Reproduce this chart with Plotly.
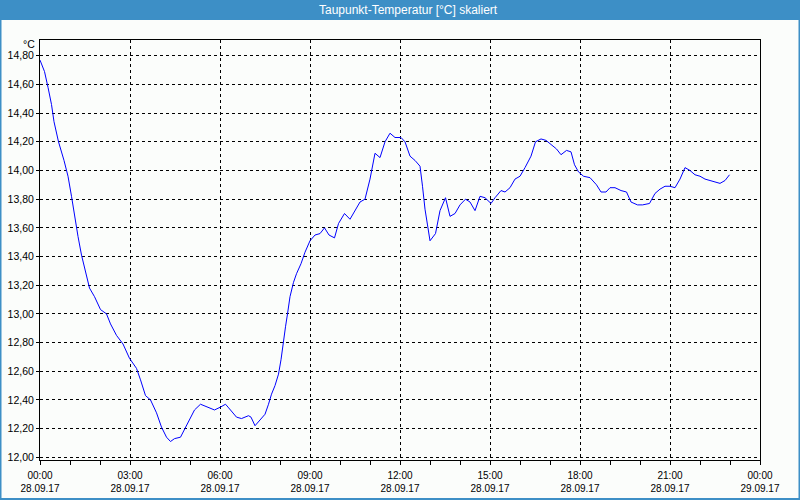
import plotly.graph_objects as go

# minutes since 00:00 on 28.09.17, dew point in °C
minutes = [0, 9, 16, 23, 28, 37, 48, 56, 63, 69, 76, 83, 91, 99, 109, 121, 133, 141, 153, 166,
           179, 193, 201, 211, 221, 233, 243, 253, 261, 269, 281, 293, 309, 321, 336, 349, 361, 371, 376,
           383, 393, 403, 417, 422, 430, 440, 450, 457, 463, 470, 477, 482, 487, 491, 495, 500, 507,
           513, 522, 530, 540, 550, 560, 569, 578, 589, 597, 609, 620, 630, 640, 650, 660, 670, 680,
           690, 700, 710, 722, 730, 740, 750, 760,
           765, 770, 775, 780, 791, 800, 811, 820, 830, 840, 851, 860, 870, 880, 890, 902, 910, 922,
           930, 940, 950, 960, 970, 982, 991, 1002, 1012, 1023, 1033, 1042, 1053, 1062, 1069, 1077,
           1087, 1100, 1113, 1122, 1132,
           1140, 1150, 1162, 1173, 1182, 1195, 1205, 1219, 1230, 1240, 1250, 1260, 1270, 1280, 1290,
           1300, 1310, 1320, 1330, 1342, 1351, 1360, 1370, 1379]
values = [14.77, 14.69, 14.58, 14.46, 14.34, 14.20, 14.07, 13.96, 13.82, 13.68, 13.54, 13.41, 13.29,
          13.18, 13.12, 13.03, 13.00, 12.93, 12.85, 12.79, 12.69, 12.62, 12.54, 12.43, 12.40, 12.31,
          12.21, 12.14, 12.11, 12.13, 12.14, 12.22, 12.33, 12.37, 12.35, 12.33, 12.35, 12.37, 12.35,
          12.32, 12.28, 12.27, 12.29, 12.28, 12.22, 12.26, 12.30, 12.37, 12.44, 12.50, 12.58, 12.68,
          12.79, 12.91, 13.00, 13.12, 13.22, 13.28, 13.35, 13.43, 13.51, 13.55, 13.56, 13.60, 13.55,
          13.53, 13.63, 13.70, 13.66, 13.72, 13.78, 13.80, 13.94, 14.12, 14.09, 14.20, 14.26, 14.23,
          14.23, 14.20, 14.10, 14.07, 14.03,
          13.89, 13.73, 13.62, 13.51, 13.56, 13.72, 13.81, 13.68, 13.70, 13.76, 13.80, 13.78, 13.72,
          13.82, 13.81, 13.77, 13.81, 13.86, 13.85, 13.88, 13.94, 13.96, 14.02, 14.10, 14.20, 14.22,
          14.21, 14.18, 14.15, 14.11, 14.14, 14.13, 14.04, 13.99, 13.96, 13.95, 13.90, 13.85, 13.85,
          13.88, 13.88, 13.86, 13.85, 13.78, 13.76, 13.76, 13.77, 13.84, 13.87, 13.89, 13.89, 13.88,
          13.94, 14.02, 14.00, 13.97, 13.96, 13.94, 13.93, 13.92, 13.91, 13.93, 13.97]

tick_hours = [0, 3, 6, 9, 12, 15, 18, 21, 24]
tick_labels = ["00:00<br>28.09.17", "03:00<br>28.09.17", "06:00<br>28.09.17", "09:00<br>28.09.17",
               "12:00<br>28.09.17", "15:00<br>28.09.17", "18:00<br>28.09.17", "21:00<br>28.09.17",
               "00:00<br>29.09.17"]
title = "Taupunkt-Temperatur [°C] skaliert"
unit = "°C"

def ts(m):
    d = 28 + m // 1440
    m = m % 1440
    return f"2017-09-{d:02d} {m // 60:02d}:{m % 60:02d}"

x = [ts(m) for m in minutes]
tickvals = [ts(h * 60) for h in tick_hours]

BG = "#fbfdfb"
BLUE = "#3d8fc6"
FONT = "Liberation Sans"

fig = go.Figure()
fig.add_trace(go.Scatter(x=x, y=values, mode="lines", line=dict(color="#0000ff", width=1),
                         hoverinfo="skip"))

W, H = 800, 500
L, R, T, B = 40, 40, 40, 40
pw, ph = W - L - R, H - T - B

fig.update_layout(
    width=W, height=H, margin=dict(l=L, r=R, t=T, b=B, autoexpand=False),
    paper_bgcolor=BG, plot_bgcolor=BG, showlegend=False,
    separators=",.",
    font=dict(family=FONT, size=10, color="#000000"),
    xaxis=dict(range=[ts(0), ts(1440)], tickvals=tickvals, ticktext=tick_labels,
               showgrid=True, gridcolor="#000000", gridwidth=1, griddash="3px,3px",
               showline=True, linecolor="#000000", linewidth=1, mirror=True,
               ticks="outside", ticklen=4, tickcolor="#000000", zeroline=False,
               ticklabelstandoff=2, automargin=False,
               tickfont=dict(family=FONT, size=10, color="#000000"),
               minor=dict(dtick=3600000, ticks="outside", ticklen=4, tickcolor="#000000",
                          showgrid=False)),
    yaxis=dict(range=[11.981, 14.91], tick0=12.0, dtick=0.2, tickformat=".2f",
               showgrid=True, gridcolor="#000000", gridwidth=1, griddash="3px,3px",
               showline=True, linecolor="#000000", linewidth=1, mirror=True,
               ticks="outside", ticklen=3, tickcolor="#000000", zeroline=False,
               automargin=False,
               tickfont=dict(family=FONT, size=10.5, color="#000000")),
)

# outer frame and title bar
fig.add_shape(type="rect", xref="paper", yref="paper",
              x0=-L / pw + 0.5 / pw, x1=1 + R / pw - 0.5 / pw,
              y0=-B / ph + 1 / ph, y1=1 + T / ph,
              line=dict(color=BLUE, width=2), fillcolor="rgba(0,0,0,0)", layer="above")
fig.add_shape(type="rect", xref="paper", yref="paper",
              x0=-L / pw, x1=1 + R / pw, y0=1 + (T - 20) / ph, y1=1 + T / ph,
              line=dict(width=0), fillcolor=BLUE, layer="above")
fig.add_annotation(text=title, xref="paper", yref="paper", x=0.5 + 8 / pw, y=1 + (T - 10) / ph,
                   showarrow=False, xanchor="center", yanchor="middle",
                   font=dict(family=FONT, size=12, color="#ffffff"))
fig.add_annotation(text=unit, xref="paper", yref="paper", x=-3 / pw, y=1 - 4 / ph,
                   showarrow=False, xanchor="right", yanchor="middle",
                   font=dict(family=FONT, size=10.5, color="#000000"))

fig.write_html("out.html")
